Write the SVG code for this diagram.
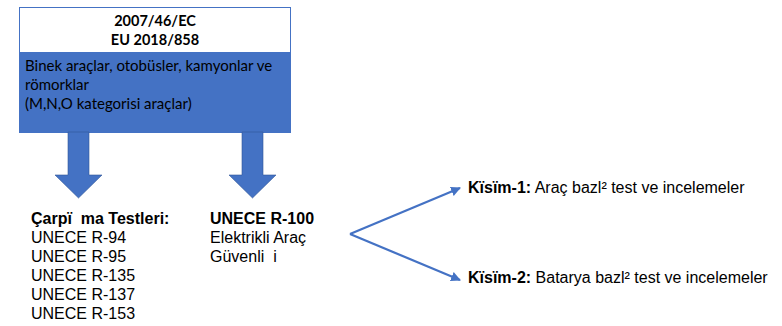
<svg xmlns="http://www.w3.org/2000/svg" width="782" height="326" viewBox="0 0 782 326">
<defs>
<style>
.hd{font-family:Lato,"Open Sans",sans-serif;font-size:14.5px;font-weight:bold;fill:#000}
.bx{font-family:Lato,"Open Sans",sans-serif;font-size:15px;fill:#000}
.t{font-family:"Liberation Sans",Arial,sans-serif;font-size:16px;fill:#000;white-space:pre}
.b{font-weight:bold}
.arr{fill:#4472C4;stroke:#2F5597;stroke-width:0.6}
.con{stroke:#4472C4;stroke-width:2.2;fill:none}
</style>
<marker id="ah" viewBox="0 0 10 10" refX="9" refY="5" markerWidth="4.5" markerHeight="4.5" orient="auto" markerUnits="strokeWidth">
<path d="M0,0 L10,5 L0,10 z" fill="#4472C4"/>
</marker>
</defs>
<rect width="782" height="326" fill="#fff"/>
<g id="topbox">
<rect x="19.5" y="7.5" width="271" height="125" fill="#fff" stroke="#4472C4" stroke-width="1"/>
<rect x="19.5" y="52" width="271" height="80.5" fill="#4472C4"/>
<text class="hd" x="155" y="26" text-anchor="middle">2007/46/EC</text>
<text class="hd" x="155" y="45" text-anchor="middle">EU 2018/858</text>
<text class="bx" x="25" y="71">Binek araçlar, otobüsler, kamyonlar ve</text>
<text class="bx" x="25" y="90">römorklar</text>
<text class="bx" x="25" y="109">(M,N,O kategorisi araçlar)</text>
</g>
<g id="arrow-left">
<path class="arr" d="M68,132 L89,132 L89,175 L102,175 L78.5,198 L55,175 L68,175 z"/>
</g>
<g id="arrow-right">
<path class="arr" d="M242,132 L263,132 L263,175 L276,175 L252.5,198 L229,175 L242,175 z"/>
</g>
<g id="crash-tests">
<text class="t b" x="31" y="224">Çarpï  ma Testleri:</text>
<text class="t" x="31" y="243">UNECE R-94</text>
<text class="t" x="31" y="262">UNECE R-95</text>
<text class="t" x="31" y="281">UNECE R-135</text>
<text class="t" x="31" y="300">UNECE R-137</text>
<text class="t" x="31" y="319">UNECE R-153</text>
</g>
<g id="r100">
<text class="t b" x="210" y="224">UNECE R-100</text>
<text class="t" x="210" y="243">Elektrikli Araç</text>
<text class="t" x="210" y="262">Güvenli  i</text>
</g>
<g id="connectors">
<path class="con" d="M350,234 L460,188" marker-end="url(#ah)"/>
<path class="con" d="M350,234 L460,280" marker-end="url(#ah)"/>
</g>
<g id="part1">
<text class="t" x="468" y="193"><tspan class="b">Kïsïm-1:</tspan> Araç bazl² test ve incelemeler</text>
</g>
<g id="part2">
<text class="t" x="468" y="283"><tspan class="b">Kïsïm-2:</tspan> Batarya bazl² test ve incelemeler</text>
</g>
</svg>
